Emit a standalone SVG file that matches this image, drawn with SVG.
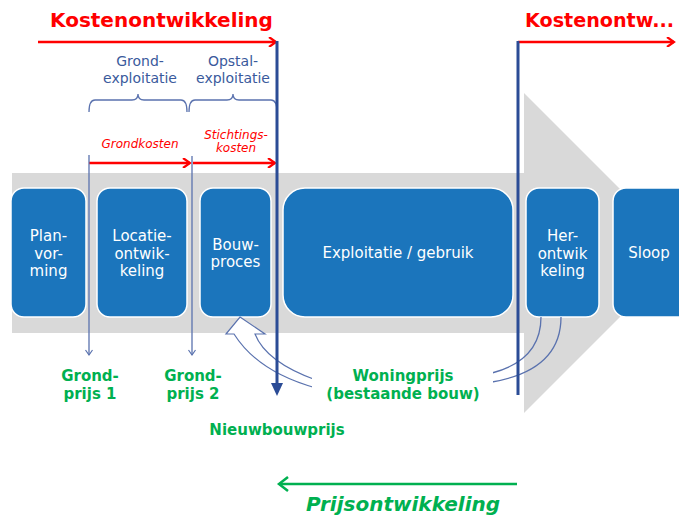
<svg xmlns="http://www.w3.org/2000/svg" width="679" height="517" viewBox="0 0 679 517">
<defs>
<style>
.box{fill:#1B75BC;stroke:#ffffff;stroke-width:1.5}
.bt{font-family:"DejaVu Sans",Verdana,sans-serif;font-size:15px;fill:#ffffff;text-anchor:middle}
.red{stroke:#FF0000;stroke-width:2.5;fill:none}
.thin{stroke:#5A72AE;stroke-width:1.3;fill:none}
.dark{stroke:#2B4C96;stroke-width:3;fill:none}
.bl{font-family:"DejaVu Sans",Verdana,sans-serif;font-size:14px;fill:#3A5A9C;text-anchor:middle}
.ri{font-family:"DejaVu Sans",Verdana,sans-serif;font-size:12px;font-style:italic;fill:#FF0000;text-anchor:middle}
.gr{font-family:"DejaVu Sans",Verdana,sans-serif;font-size:15px;font-weight:bold;fill:#00B050;text-anchor:middle}
.kt{font-family:"DejaVu Sans",Verdana,sans-serif;font-size:20px;font-weight:bold;fill:#FF0000}
</style>
<marker id="ro" markerWidth="10" markerHeight="10" refX="8" refY="5" orient="auto" markerUnits="userSpaceOnUse"><path d="M1,0 L8,5 L1,10" fill="none" stroke="#FF0000" stroke-width="2.2"/></marker>
<marker id="to" markerWidth="8" markerHeight="8" refX="6" refY="4" orient="auto" markerUnits="userSpaceOnUse"><path d="M1,0.5 L6,4 L1,7.5" fill="none" stroke="#5A72AE" stroke-width="1.2"/></marker>
</defs>

<g id="background">
<polygon points="12,173 524,173 524,93 684,253 524,413 524,333 12,333" fill="#D9D9D9"/>
</g>

<g id="plan"><rect class="box" x="11" y="188" width="75" height="129" rx="13"/>
<text class="bt" x="48.5" y="241">Plan-</text><text class="bt" x="48.5" y="258.5">vor-</text><text class="bt" x="48.5" y="276">ming</text></g>
<g id="locatie"><rect class="box" x="97" y="188" width="90" height="129" rx="13"/>
<text class="bt" x="142" y="241">Locatie-</text><text class="bt" x="142" y="258.5">ontwik-</text><text class="bt" x="142" y="276">keling</text></g>
<g id="bouw"><rect class="box" x="200" y="188" width="71" height="129" rx="13"/>
<text class="bt" x="235.5" y="249.5">Bouw-</text><text class="bt" x="235.5" y="267">proces</text></g>
<g id="exploitatie"><rect class="box" x="283" y="188" width="230" height="129" rx="22"/>
<text class="bt" x="398" y="258">Exploitatie / gebruik</text></g>
<g id="herontwikkeling"><rect class="box" x="526" y="188" width="73" height="129" rx="13"/>
<text class="bt" x="562.5" y="241">Her-</text><text class="bt" x="562.5" y="258.5">ontwik</text><text class="bt" x="562.5" y="276">keling</text></g>
<g id="sloop"><rect class="box" x="613" y="188" width="80" height="129" rx="13"/>
<text class="bt" x="649" y="258">Sloop</text></g>

<g id="connectors">
<path d="M240,317 L265,334 L255,334 Q266,362 316,380 L316,388 Q258,372 234,334 L226,334 Z" fill="#ffffff" stroke="#5A72AE" stroke-width="1.2"/>
<path class="thin" d="M541,317 Q541,360 492,373"/>
<path class="thin" d="M561,317 Q561,370 492,382"/>
<line class="red" x1="38" y1="42" x2="276" y2="42" marker-end="url(#ro)"/>
<line class="red" x1="518" y1="42" x2="674" y2="42" marker-end="url(#ro)"/>
<line class="red" x1="89" y1="163" x2="190" y2="163" marker-end="url(#ro)"/>
<line class="red" x1="193" y1="163" x2="275" y2="163" marker-end="url(#ro)"/>
<line class="thin" x1="89" y1="155" x2="89" y2="355" marker-end="url(#to)"/>
<line class="thin" x1="192" y1="156" x2="192" y2="355" marker-end="url(#to)"/>
<path class="thin" d="M89,112 Q89,100 95,100 L132,100 Q138,100 138,94 Q138,100 144,100 L181,100 Q187,100 187,112"/>
<path class="thin" d="M189,112 Q189,100 195,100 L227,100 Q233,100 233,94 Q233,100 239,100 L271,100 Q277,100 277,112"/>
<line class="dark" x1="277" y1="41" x2="277" y2="384"/>
<polygon points="271,383 283,383 277,396" fill="#2B4C96"/>
<line class="dark" x1="518" y1="41" x2="518" y2="395"/>
<line x1="517" y1="484" x2="280" y2="484" stroke="#00B050" stroke-width="2.5"/>
<path d="M288,477 L279,484 L288,491" fill="none" stroke="#00B050" stroke-width="2.5"/>
</g>

<g id="labels">
<text class="kt" x="50" y="27">Kostenontwikkeling</text>
<text class="kt" x="525" y="27" textLength="149" lengthAdjust="spacingAndGlyphs">Kostenontw...</text>
<text class="bl" x="140" y="66">Grond-</text><text class="bl" x="140" y="83">exploitatie</text>
<text class="bl" x="233" y="66">Opstal-</text><text class="bl" x="233" y="83">exploitatie</text>
<text class="ri" x="140" y="148">Grondkosten</text>
<text class="ri" x="236" y="139">Stichtings-</text><text class="ri" x="236" y="152">kosten</text>
<text class="gr" x="90" y="381">Grond-</text><text class="gr" x="90" y="399">prijs 1</text>
<text class="gr" x="193" y="381">Grond-</text><text class="gr" x="193" y="399">prijs 2</text>
<text class="gr" x="277" y="435">Nieuwbouwprijs</text>
<g id="woningprijs"><rect x="312" y="362" width="181" height="46" fill="#ffffff"/>
<text class="gr" x="403" y="381">Woningprijs</text><text class="gr" x="403" y="399">(bestaande bouw)</text></g>
<text x="403" y="511" font-family="DejaVu Sans, Verdana, sans-serif" font-size="20" font-weight="bold" font-style="italic" fill="#00B050" text-anchor="middle">Prijsontwikkeling</text>
</g>
</svg>
